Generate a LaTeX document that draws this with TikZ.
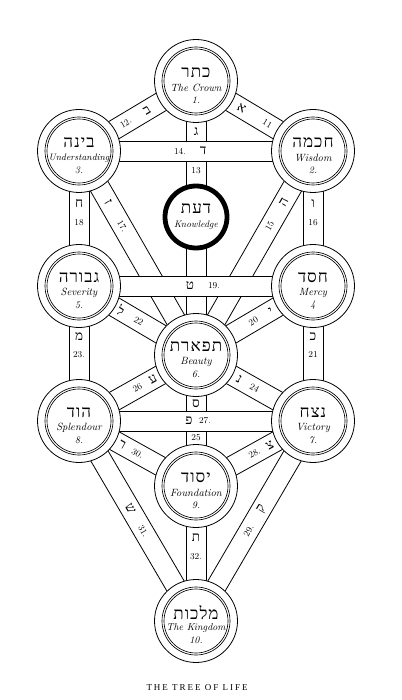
\documentclass[tikz,border=0pt]{standalone}
\usepackage{fontspec}
\usetikzlibrary{backgrounds,calc}
\TeXXeTstate=1
\newfontfamily\hebfont[Script=Hebrew]{Liberation Serif}
\newfontfamily\hebwide[Script=Hebrew,LetterSpace=6]{Liberation Serif}
\newfontfamily\titlefont[LetterSpace=22]{Liberation Serif}
\tikzset{
  sephira/.style={circle, draw, line width=0.8pt, fill=white, minimum size=83pt, inner sep=0pt},
  daathring/.style={circle, draw, line width=4.8pt, fill=white, minimum size=62pt, inner sep=0pt},
  edge/.style={line width=0.8pt, draw=black},
  hebname/.style={font=\hebwide\fontsize{17}{17}\selectfont, inner sep=0pt},
  engname/.style={font=\itshape\fontsize{10.5}{11}\selectfont, inner sep=0pt},
  numname/.style={font=\itshape\fontsize{10}{10}\selectfont, inner sep=0pt},
  pletter/.style={font=\hebfont\fontsize{13.5}{13.5}\selectfont, inner sep=0pt},
  pnum/.style={font=\fontsize{9}{9}\selectfont, inner sep=0pt},
}
\newcommand\sephira[6]{%
  \node[sephira] (#1) at (#2,#3) {};
  \draw[line width=0.65pt] (#1.center) circle[radius=34pt] (#1.center) circle[radius=32pt];
  \node[hebname] (#1h) at (#2,#3-8) {\beginR #4\endR};
  \node[engname] (#1e) at (#2,#3+7) {#5};
  \node[numname] (#1n) at (#2,#3+19) {#6};
}
\newcommand\band[2]{%
  \fill[white] ($(#1.center)!10pt!90:(#2.center)$) -- ($(#2.center)!10pt!-90:(#1.center)$)
     -- ($(#2.center)!10pt!90:(#1.center)$) -- ($(#1.center)!10pt!-90:(#2.center)$) -- cycle;
  \draw[edge] ($(#1.center)!10pt!90:(#2.center)$) -- ($(#2.center)!10pt!-90:(#1.center)$)
              ($(#1.center)!10pt!-90:(#2.center)$) -- ($(#2.center)!10pt!90:(#1.center)$);
}
\begin{document}
\begin{tikzpicture}[x=1pt,y=-1pt]
\useasboundingbox (0,0) rectangle (401,700);
% Sephiroth
\sephira{K}{196}{81}{כתר}{The Crown}{1.}
\sephira{B}{79}{151}{בינה}{\fontsize{9.3}{9}\selectfont Understanding}{3.}
\sephira{Ch}{313}{151}{חכמה}{Wisdom}{2.}
\sephira{G}{79}{286}{גבורה}{Severity}{5.}
\sephira{Cs}{313}{286}{חסד}{Mercy}{4}
\sephira{T}{196}{355}{תפארת}{Beauty}{6.}
\sephira{H}{79}{421}{הוד}{Splendour}{8.}
\sephira{N}{313}{421}{נצח}{Victory}{7.}
\sephira{Y}{196}{486}{יסוד}{Foundation}{9.}
\sephira{M}{196}{621}{מלכות}{\fontsize{10}{10}\selectfont The Kingdom}{10.}
\node[daathring] (D) at (196,217) {};
\node[hebname] (Dh) at (196,209) {\beginR דעת\endR};
\node[engname] (De) at (196,225) {\fontsize{9.5}{10}\selectfont Knowledge};
% Paths
\begin{scope}[on background layer]
  \fill[white] (0,0) rectangle (401,700);
  \band{K}{Ch}
  \band{K}{B}
  \band{K}{T}
  \band{Ch}{T}
  \band{Ch}{Cs}
  \band{B}{T}
  \band{B}{G}
  \band{Cs}{T}
  \band{Cs}{N}
  \band{G}{T}
  \band{G}{H}
  \band{T}{N}
  \band{T}{Y}
  \band{T}{H}
  \band{N}{Y}
  \band{N}{M}
  \band{H}{Y}
  \band{H}{M}
  \band{Y}{M}
  \band{B}{Ch}
  \band{G}{Cs}
  \band{H}{N}
\end{scope}
% Path labels
\path (K.center) -- (Ch.center) node[pletter, sloped, pos=0.39] (l11a) {א} node[pnum, sloped, pos=0.61] (l11b) {11};
\path (B.center) -- (K.center) node[pnum, sloped, pos=0.40] (l12b) {12.} node[pletter, sloped, pos=0.58] (l12a) {ב};
\node[pletter] (l13a) at (196,132) {ג};
\node[pnum] (l13b) at (196,171) {13};
\node[pnum] (l14b) at (180,151) {14.};
\node[pletter] (l14a) at (203,151) {ד};
\path (Ch.center) -- (T.center) node[pletter, sloped, pos=0.25] (l15a) {ה} node[pnum, sloped, pos=0.37] (l15b) {15};
\node[pletter] (l16a) at (313,204) {ו};
\node[pnum] (l16b) at (313,223) {16};
\path (B.center) -- (T.center) node[pletter, sloped, pos=0.25] (l17a) {ז} node[pnum, sloped, pos=0.37] (l17b) {17.};
\node[pletter] (l18a) at (79,204) {ח};
\node[pnum] (l18b) at (79,223) {18};
\node[pletter] (l19a) at (190,286) {ט};
\node[pnum] (l19b) at (214,286) {19.};
\path (Cs.center) -- (T.center) node[pletter, sloped, pos=0.36] (l20a) {י} node[pnum, sloped, pos=0.51] (l20b) {20};
\node[pletter] (l21a) at (313,337) {כ};
\node[pnum] (l21b) at (313,355) {21};
\path (G.center) -- (T.center) node[pletter, sloped, pos=0.36] (l22a) {ל} node[pnum, sloped, pos=0.51] (l22b) {22};
\node[pletter] (l23a) at (79,337) {מ};
\node[pnum] (l23b) at (79,355) {23.};
\path (T.center) -- (N.center) node[pletter, sloped, pos=0.37] (l24a) {נ} node[pnum, sloped, pos=0.50] (l24b) {24};
\node[pletter] (l25a) at (196,404) {ס};
\node[pnum] (l25b) at (196,438) {25};
\path (T.center) -- (H.center) node[pletter, sloped, pos=0.37] (l26a) {ע} node[pnum, sloped, pos=0.50] (l26b) {26};
\node[pletter] (l27a) at (189,421) {פ};
\node[pnum] (l27b) at (205,421) {27.};
\path (N.center) -- (Y.center) node[pletter, sloped, pos=0.37] (l28a) {צ} node[pnum, sloped, pos=0.50] (l28b) {28.};
\path (N.center) -- (M.center) node[pletter, sloped, pos=0.44] (l29a) {ק} node[pnum, sloped, pos=0.55] (l29b) {29.};
\path (H.center) -- (Y.center) node[pletter, sloped, pos=0.37] (l30a) {ר} node[pnum, sloped, pos=0.50] (l30b) {30.};
\path (H.center) -- (M.center) node[pletter, sloped, pos=0.44] (l31a) {ש} node[pnum, sloped, pos=0.55] (l31b) {31.};
\node[pletter] (l32a) at (196,538) {ת};
\node[pnum] (l32b) at (196,557) {32.};
% Title
\node[font=\titlefont\fontsize{9}{9}\selectfont, inner sep=0pt] (title) at (197,688) {THE TREE OF LIFE};
\end{tikzpicture}
\end{document}
